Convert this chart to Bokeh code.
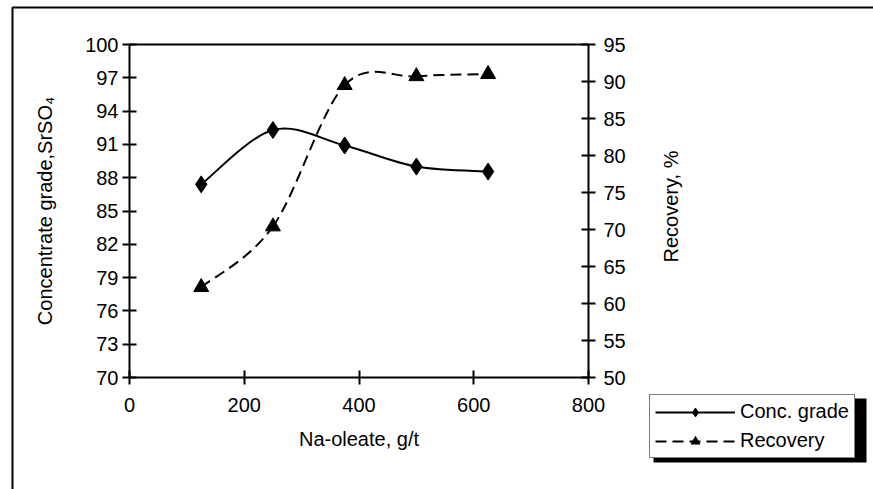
import numpy as np
from bokeh.plotting import figure
from bokeh.models import (Range1d, LinearAxis, FixedTicker, Legend, LegendItem,
                          BoxAnnotation, ColumnDataSource, Label)
from bokeh.embed import file_html
from bokeh.resources import INLINE

# ---- data ----
na_oleate = [125, 250, 375, 500, 625]
conc_grade = [87.4, 92.3, 90.9, 89.0, 88.55]
recovery = [62.2, 70.4, 89.5, 90.7, 91.0]

x_ticks = [0, 200, 400, 600, 800]
grade_ticks = [70, 73, 76, 79, 82, 85, 88, 91, 94, 97, 100]
rec_ticks = [50, 55, 60, 65, 70, 75, 80, 85, 90, 95]

FONT = "Liberation Sans"
FS = "20px"

# ---- layout (pixels) ----
W, H = 873, 489
PX_L, PX_R, PX_T, PX_B = 129, 588, 44, 377   # where the plot box sits

X0, X1 = x_ticks[0], x_ticks[-1]
G0, G1 = grade_ticks[0], grade_ticks[-1]
R0, R1 = rec_ticks[0], rec_ticks[-1]

sx = (PX_R - PX_L) / (X1 - X0)
sg = (PX_B - PX_T) / (G1 - G0)
sr = (PX_B - PX_T) / (R1 - R0)
x_range = Range1d(X0 - PX_L / sx, X1 + (W - PX_R) / sx)
g_range = Range1d(G0 - (H - PX_B) / sg, G1 + PX_T / sg)
r_range = Range1d(R0 - (H - PX_B) / sr, R1 + PX_T / sr)


def smooth_segments(xs, ys):
    """Bezier control points for a smoothed line through the points."""
    x = np.asarray(xs, float)
    y = np.asarray(ys, float)
    n = len(x)
    xp = np.concatenate([[x[0]], x, [x[-1]]])
    yp = np.concatenate([[y[0]], y, [y[-1]]])
    d = dict(x0=[], y0=[], x1=[], y1=[], cx0=[], cy0=[], cx1=[], cy1=[])
    for i in range(n - 1):
        j = i + 1
        d["x0"].append(x[i]); d["y0"].append(y[i])
        d["x1"].append(x[i + 1]); d["y1"].append(y[i + 1])
        d["cx0"].append(x[i] + (xp[j + 1] - xp[j - 1]) / 6)
        d["cy0"].append(y[i] + (yp[j + 1] - yp[j - 1]) / 6)
        d["cx1"].append(x[i + 1] - (xp[j + 2] - xp[j]) / 6)
        d["cy1"].append(y[i + 1] - (yp[j + 2] - yp[j]) / 6)
    return ColumnDataSource(d)


p = figure(width=W, height=H, output_backend="svg", toolbar_location=None,
           x_range=x_range, y_range=g_range,
           x_axis_location=None, y_axis_location=None,
           min_border=0)
p.extra_y_ranges = {"rec": r_range}
p.grid.visible = False
p.outline_line_color = None
p.background_fill_color = "white"
p.border_fill_color = "white"

# outer chart frame
frame = BoxAnnotation(left=12, right=W + 20, top=7, bottom=H + 20,
                      left_units="canvas", right_units="canvas",
                      top_units="canvas", bottom_units="canvas",
                      fill_color=None, fill_alpha=0,
                      line_color="black", line_alpha=1, line_width=2)
p.add_layout(frame)

# conc grade
seg1 = smooth_segments(na_oleate, conc_grade)
b1 = p.bezier("x0", "y0", "x1", "y1", "cx0", "cy0", "cx1", "cy1", source=seg1,
              line_color="black", line_width=2)
m1 = p.scatter(na_oleate, conc_grade, marker="diamond", size=17,
               fill_color="black", line_color="black")

# recovery
seg2 = smooth_segments(na_oleate, recovery)
b2 = p.bezier("x0", "y0", "x1", "y1", "cx0", "cy0", "cx1", "cy1", source=seg2,
              line_color="black", line_width=2, line_dash="11 6",
              y_range_name="rec")
m2 = p.scatter(na_oleate, recovery, marker="triangle", size=15,
               fill_color="black", line_color="black", y_range_name="rec")


def style_axis(ax):
    ax.axis_line_width = 2
    ax.axis_line_color = "black"
    ax.major_tick_line_width = 2
    ax.major_tick_line_color = "black"
    ax.major_tick_in = 7
    ax.major_tick_out = 7
    ax.minor_tick_line_color = None
    ax.major_label_text_font = FONT
    ax.major_label_text_font_size = FS
    ax.major_label_text_color = "black"
    ax.axis_label_text_font = FONT
    ax.axis_label_text_font_size = FS
    ax.axis_label_text_font_style = "normal"
    ax.axis_label_text_color = "black"


xa = LinearAxis(fixed_location=G0, bounds=(X0, X1))
style_axis(xa)
xa.ticker = FixedTicker(ticks=x_ticks)
xa.axis_label = "Na-oleate, g/t"
xa.major_label_standoff = 13
xa.axis_label_standoff = 13
p.add_layout(xa, "below")

ya = LinearAxis(fixed_location=X0, bounds=(G0, G1))
style_axis(ya)
ya.ticker = FixedTicker(ticks=grade_ticks)
ya.axis_label = "Concentrate grade,SrSO\u2084"
ya.major_label_standoff = 4
ya.axis_label_standoff = 26
p.add_layout(ya, "left")

ra = LinearAxis(fixed_location=X1, bounds=(R0, R1), y_range_name="rec")
style_axis(ra)
ra.ticker = FixedTicker(ticks=rec_ticks)
ra.major_label_standoff = 8
p.add_layout(ra, "right")

ta = LinearAxis(fixed_location=G1, bounds=(X0, X1))
style_axis(ta)
ta.ticker = FixedTicker(ticks=[])
ta.major_tick_line_color = None
p.add_layout(ta, "above")

rec_label = Label(x=670, y=H - 206, x_units="screen", y_units="screen",
                  text="Recovery, %", angle=np.pi / 2, angle_units="rad",
                  text_align="center", text_baseline="middle",
                  text_font=FONT, text_font_size=FS, text_color="black")
p.add_layout(rec_label)

# legend shadow and legend
shadow = BoxAnnotation(left=653, right=866, top=398, bottom=462,
                       left_units="canvas", right_units="canvas",
                       top_units="canvas", bottom_units="canvas",
                       fill_color="black", fill_alpha=1,
                       line_color=None, line_alpha=0)
p.add_layout(shadow)

legend = Legend(items=[LegendItem(label="Conc. grade", renderers=[b1, m1]),
                       LegendItem(label="Recovery", renderers=[b2, m2])],
                location=(649, H - 458), orientation="vertical")
legend.label_text_font = FONT
legend.label_text_font_size = FS
legend.label_text_color = "black"
legend.glyph_width = 80
legend.glyph_height = 22
legend.label_standoff = 5
legend.padding = 5
legend.spacing = 6
legend.margin = 0
legend.border_line_color = "black"
legend.border_line_width = 1.5
legend.background_fill_color = "white"
legend.background_fill_alpha = 1
p.add_layout(legend, "center")

open("out.html", "w").write(file_html(p, INLINE))
